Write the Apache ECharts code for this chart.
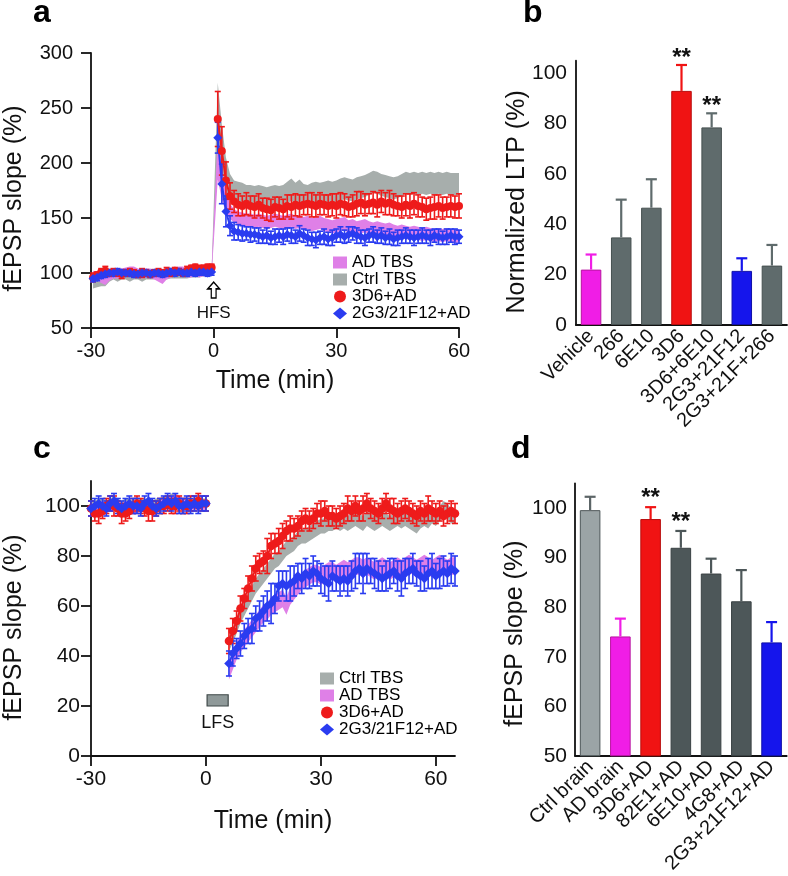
<!DOCTYPE html>
<html>
<head>
<meta charset="utf-8">
<script src="https://cdn.jsdelivr.net/npm/echarts/dist/echarts.min.js"></script>
<style>
html,body{margin:0;padding:0;background:#fff;}
#chart{width:788px;height:876px;}
</style>
</head>
<body>
<div id="chart"></div>
<script>
// ---------------- Panel a data ----------------
const aTimeBase = [-29.5,-28.5,-27.5,-26.5,-25.5,-24.5,-23.5,-22.5,-21.5,-20.5,-19.5,-18.5,-17.5,-16.5,-15.5,-14.5,-13.5,-12.5,-11.5,-10.5,-9.5,-8.5,-7.5,-6.5,-5.5,-4.5,-3.5,-2.5,-1.5,-0.5];
const aTimePost = [1,2,3,4,5,6,7,8,9,10,11,12,13,14,15,16,17,18,19,20,21,22,23,24,25,26,27,28,29,30,31,32,33,34,35,36,37,38,39,40,41,42,43,44,45,46,47,48,49,50,51,52,53,54,55,56,57,58,59,60];

const aRedBase = [96,98,101,102,100,101,100,99,100,101, 100,99,100,100,99,100,101,100,101,100, 102,101,100,102,104,105,103,104,105,105];
const aRedBaseErr = [4,3,3,4,3,3,3,4,3,3, 3,3,4,3,3,3,3,3,4,3, 3,3,3,4,3,3,4,3,3,3];
const aRedPost = [240,211,184,170,165,162,161,163,161,160, 162,159,158,157,160,159,158,161,160,162, 161,162,163,162,161,163,162,161,162,161, 163,162,160,161,163,164,162,163,164,162, 165,163,164,162,161,160,162,161,163,161, 160,158,159,160,161,159,160,161,160,161];
const aRedPostErr = [25,22,17,12,10,10,9,10,9,10, 10,9,10,10,9,10,9,10,11,10, 10,9,10,11,10,10,9,10,10,11, 10,10,9,10,11,10,10,9,10,11, 10,10,11,10,9,10,10,11,10,10, 9,10,10,11,10,10,9,10,10,11];

const aBlueBase = [95,96,98,99,100,100,101,100,100,100, 99,99,100,100,99,100,100,99,100,101, 100,101,100,100,101,100,101,101,100,101];
const aBlueBaseErr = [3,3,3,3,3,3,3,3,3,3, 3,3,3,3,3,3,3,3,3,3, 3,3,3,3,3,3,3,3,3,3];
const aBluePost = [223,181,156,143,138,137,136,136,135,135, 134,133,134,132,133,134,133,135,134,133, 136,134,132,131,130,132,133,131,132,134, 135,133,135,136,134,133,132,134,135,133, 134,132,133,131,132,133,134,133,132,133, 134,133,132,134,133,132,133,134,133,133];
const aBluePostErr = [14,18,14,9,8,7,7,6,7,6, 7,6,7,6,7,6,7,6,7,6, 7,6,7,6,7,6,7,6,7,6, 7,6,7,6,7,6,7,6,7,6, 7,6,7,6,7,6,7,6,7,6, 7,6,7,6,7,6,7,6,7,6];

const aCtrlBase = [92,93,94,94,96,97,96,97,97,96, 97,97,96,97,97,97,98,97,97,98, 98,98,98,98,99,99,99,100,100,100];
const aCtrlBaseSem = [6,6,6,6,4,3,4,3,3,4, 3,3,4,3,3,3,3,3,3,3, 3,3,3,3,3,3,3,3,3,3];
const aCtrlPost = [242,212,189,178,173,172,171,170,170,169, 170,169,168,169,170,169,170,173,176,172, 175,171,170,172,173,172,173,174,173,174, 176,177,176,175,177,178,179,181,183,182, 180,179,178,177,178,180,182,181,182,181, 182,181,182,181,182,181,182,181,181,181];
const aCtrlPostSem = [31,23,16,12,11,11,11,10,10,10, 10,10,10,10,10,10,10,10,10,10, 10,10,10,10,10,10,10,10,10,10, 10,10,10,10,10,10,10,10,10,10, 10,10,10,10,10,10,10,10,10,10, 10,10,10,10,10,10,10,10,10,10];

const aADBase = [98,97,95,93,97,99,99,100,101,102, 102,100,99,100,100,98,96,94,98,100, 101,102,102,100,100,101,100,101,101,102];
const aADBaseSem = [4,4,4,4,4,4,4,4,4,4, 4,4,4,4,4,4,4,4,4,4, 4,4,4,4,4,4,4,4,4,4];
const aADPost = [205,182,165,156,152,150,149,148,148,147, 148,147,146,147,148,147,146,147,148,146, 147,145,146,144,145,146,144,143,142,143, 144,145,142,143,141,142,143,141,140,141, 140,139,140,138,137,138,137,136,137,136, 135,136,135,134,135,134,135,134,133,134];
const aADPostSem = [20,15,10,7,6,6,6,6,6,6, 6,6,6,6,6,6,6,6,6,6, 6,6,6,6,6,6,6,6,6,6, 6,6,6,6,6,6,6,6,6,6, 6,6,6,6,6,6,6,6,6,6, 6,6,6,6,6,6,6,6,6,6];

// ---------------- Panel b data ----------------
const bCategories = ['Vehicle','266','6E10','3D6','3D6+6E10','2G3+21F12','2G3+21F+266'];
const bValues = [22, 34.8, 46.6, 93, 78.5, 21.5, 23.6];
const bErrors = [6, 15, 11.3, 10.3, 5.6, 5, 8.2];
const bSignif = ['', '', '', '**', '**', '', ''];

// ---------------- Panel c data ----------------
const cTimeBase = [-30,-29,-28,-27,-26,-25,-24,-23,-22,-21,-20,-19,-18,-17,-16,-15,-14,-13,-12,-11,-10,-9,-8,-7,-6,-5,-4,-3,-2,-1,0];
const cTimePost = [6,7,8,9,10,11,12,13,14,15,16,17,18,19,20,21,22,23,24,25,26,27,28,29,30,31,32,33,34,35,36,37,38,39,40,41,42,43,44,45,46,47,48,49,50,51,52,53,54,55,56,57,58,59,60,61,62,63,64,65];

const cRedBase = [99,97,97,98,100,101,100,99,97,97, 98,100,101,100,99,98,98,99,100,100, 101,100,100,101,100,100,101,101,102,101, 101];
const cRedBaseErr = [3,3,4,3,3,3,4,3,4,3, 3,3,3,3,3,4,4,3,3,3, 3,3,3,3,3,3,3,3,3,3, 3];
const cRedPost = [46,50,54,59,63,67,71,75,77,78, 80,84,85,86,88,90,91,91,92,94, 95,94,95,97,97,98,96,96,95,96, 97,99,98,100,98,99,101,99,98,97, 99,101,99,98,97,98,99,98,97,96, 98,97,99,98,97,98,96,97,98,97];
const cRedPostErr = [5,5,4,5,4,5,5,5,4,4, 7,5,4,5,5,4,5,4,4,4, 4,4,4,4,5,4,4,4,4,4, 4,5,4,4,4,5,4,4,4,4, 4,4,4,5,4,4,4,4,4,4, 4,4,5,4,4,4,4,4,4,4];

const cBlueBase = [99,100,101,100,99,101,102,100,99,100, 101,100,100,99,101,102,100,99,100,101, 102,101,102,100,100,101,100,101,100,101, 101];
const cBlueBaseErr = [3,3,3,3,3,3,3,3,3,3, 3,3,3,3,3,3,3,3,3,3, 3,3,3,3,3,3,3,3,3,3, 3];
const cBluePost = [37,41,43,45,48,50,51,55,56,58, 60,61,63,68,69,68,69,70,72,71, 73,72,74,73,71,70,69,72,71,70, 71,70,72,74,75,73,75,74,73,72, 71,72,73,74,72,71,73,74,75,73, 72,71,73,74,72,73,74,73,75,74];
const cBluePostErr = [5,5,4,5,5,5,6,5,6,6, 6,8,6,6,5,6,7,6,5,6, 6,5,6,5,6,6,7,6,5,6, 5,6,6,7,6,8,6,5,6,6, 5,6,6,5,6,7,6,5,6,5, 6,5,6,7,5,6,6,5,6,6];

const cCtrlBase = [100,100,101,101,100,101,102,101,100,101, 101,100,100,101,101,100,100,101,101,102, 102,103,103,102,101,101,101,101,101,101, 101];
const cCtrlBaseSem = [2,2,2,2,2,2,2,2,2,2, 2,2,2,2,2,2,2,2,2,2, 2,2,2,2,2,2,2,2,2,2, 2];
const cCtrlPost = [45,48,52,56,59,62,65,68,70,72, 74,76,78,79,81,83,84,85,87,88, 88,89,90,91,92,92,93,93,94,93, 94,93,94,95,94,93,95,94,93,94, 95,94,93,94,95,94,95,94,93,92, 94,95,94,96,95,97,99,98,96,96];
const cCtrlPostSem = [3,3,3,3,3,3,3,3,3,3, 3,3,3,3,3,3,3,3,3,3, 3,3,3,3,3,3,3,3,3,3, 3,3,3,3,3,3,3,3,3,3, 3,3,3,3,3,3,3,3,3,3, 3,3,3,3,3,3,3,3,3,3];

const cADBase = [99,99,100,100,99,100,101,100,99,100, 100,99,99,100,100,99,98,99,100,101, 101,102,103,102,101,100,100,101,100,100, 100];
const cADBaseSem = [2,2,2,2,2,2,2,2,2,2, 2,2,2,2,2,2,2,2,2,2, 2,2,2,2,2,2,2,2,2,2, 2];
const cADPost = [34,38,42,45,47,49,51,53,55,57, 58,60,61,62,63,60,64,66,68,70, 71,72,73,73,72,73,74,74,73,74, 75,74,75,76,76,75,76,75,74,75, 76,75,74,75,76,75,76,77,76,75, 76,77,76,75,76,77,76,75,76,76];
const cADPostSem = [3.5,3.5,3.5,3.5,3.5,3.5,3.5,3.5,3.5,3.5, 3.5,3.5,3.5,3.5,3.5,3.5,3.5,3.5,3.5,3.5, 3.5,3.5,3.5,3.5,3.5,3.5,3.5,3.5,3.5,3.5, 3.5,3.5,3.5,3.5,3.5,3.5,3.5,3.5,3.5,3.5, 3.5,3.5,3.5,3.5,3.5,3.5,3.5,3.5,3.5,3.5, 3.5,3.5,3.5,3.5,3.5,3.5,3.5,3.5,3.5,3.5];

// ---------------- Panel d data ----------------
const dCategories = ['Ctrl brain','AD brain','3D6+AD','82E1+AD','6E10+AD','4G8+AD','2G3+21F12+AD'];
const dValues = [99.6, 74.1, 97.8, 92, 86.8, 81.2, 72.9];
const dErrors = [2.7, 3.6, 2.4, 3.4, 3.0, 6.3, 4.1];
const dSignif = ['', '', '**', '**', '', '', ''];

// ---------------- Tick labels ----------------
const timeTicksA = [-30, 0, 30, 60];
const timeTicksC = [-30, 0, 30, 60];
const bYTicks = [0, 20, 40, 60, 80, 100];
const cYTicks = [0, 20, 40, 60, 80, 100];
const dYTicks = [50, 60, 70, 80, 90, 100];

// ---------------- Styles ----------------
const FONT = "'Liberation Sans', Arial, Helvetica, sans-serif";
const RED = '#ee1b1b', BLUE = '#2a3cf0', GRAYBAND = '#a7aeac', PINKBAND = '#df80e7';
const AX = '#111';
const bColors = ['#f01de6','#5f6b6c','#5f6b6c','#f01313','#5f6b6c','#1515ec','#5f6b6c'];
const bBorders = ['#b8149f','#465050','#465050','#b80c0c','#465050','#0f0fa8','#465050'];
const dColors = ['#9ba4a6','#f01de6','#f01313','#4d5759','#4d5759','#4d5759','#1515ec'];
const dBorders = ['#4e5759','#b8149f','#b80c0c','#3a4244','#3a4244','#3a4244','#0f0fa8'];
const dErrColors = ['#5c6567','#f01de6','#f01313','#4d5759','#4d5759','#4d5759','#1515ec'];

function zip3(t, m, e) { return t.map((x, i) => [x, m[i] - e[i], m[i] + e[i]]); }
function zip2(t, m) { return t.map((x, i) => [x, m[i]]); }

function bandSeries(name, t, m, s, color, gi) {
  const data = zip3(t, m, s);
  return {
    type: 'custom', name, xAxisIndex: gi, yAxisIndex: gi, data, silent: true,
    encode: { x: 0, y: [1, 2] }, itemStyle: { color },
    renderItem: function (params, api) {
      if (params.dataIndex !== 0) return;
      const up = data.map(d => api.coord([d[0], d[2]]));
      const dn = data.map(d => api.coord([d[0], d[1]])).reverse();
      return { type: 'polygon', shape: { points: up.concat(dn) }, style: { fill: color } };
    }
  };
}

function errSeries(t, m, e, color, gi, cap, lw) {
  return {
    type: 'custom', name: 'err', xAxisIndex: gi, yAxisIndex: gi, data: zip3(t, m, e), silent: true,
    encode: { x: 0, y: [1, 2] }, itemStyle: { color },
    renderItem: function (params, api) {
      const x = api.value(0);
      const pl = api.coord([x, api.value(1)]), ph = api.coord([x, api.value(2)]);
      const st = { stroke: color, lineWidth: lw };
      return { type: 'group', children: [
        { type: 'line', shape: { x1: pl[0], y1: pl[1], x2: ph[0], y2: ph[1] }, style: st },
        { type: 'line', shape: { x1: pl[0] - cap, y1: pl[1], x2: pl[0] + cap, y2: pl[1] }, style: st },
        { type: 'line', shape: { x1: ph[0] - cap, y1: ph[1], x2: ph[0] + cap, y2: ph[1] }, style: st }
      ] };
    }
  };
}

function lineSeries(name, t, m, color, symbol, size, gi, extra) {
  return Object.assign({
    type: 'line', name, xAxisIndex: gi, yAxisIndex: gi, data: zip2(t, m),
    symbol, symbolSize: size, showAllSymbol: true, silent: true,
    lineStyle: { color, width: 2 }, itemStyle: { color }
  }, extra || {});
}

function barSeries(values, colors, borders, gi) {
  return {
    type: 'bar', xAxisIndex: gi, yAxisIndex: gi, barWidth: '68%', silent: true,
    data: values.map((v, i) => ({ value: v, itemStyle: { color: colors[i], borderColor: borders[i], borderWidth: 1 } }))
  };
}

function barErrSeries(values, errors, signif, colors, gi, gap) {
  return {
    type: 'custom', xAxisIndex: gi, yAxisIndex: gi, silent: true, z: 3,
    data: values.map((v, i) => [i, v, v + errors[i]]),
    encode: { x: 0, y: [1, 2] },
    renderItem: function (params, api) {
      const i = params.dataIndex;
      const pb = api.coord([api.value(0), api.value(1)]);
      const pt = api.coord([api.value(0), api.value(2)]);
      const st = { stroke: colors[i], lineWidth: 2.2 };
      const ch = [
        { type: 'line', shape: { x1: pb[0], y1: pb[1], x2: pt[0], y2: pt[1] }, style: st },
        { type: 'line', shape: { x1: pt[0] - 5.5, y1: pt[1], x2: pt[0] + 5.5, y2: pt[1] }, style: st }
      ];
      if (signif[i]) {
        ch.push({ type: 'text', style: { text: signif[i], x: pt[0], y: pt[1] - gap, align: 'center', verticalAlign: 'middle',
          fontSize: 24, fontWeight: 'bold', fontFamily: FONT, fill: '#111' } });
      }
      return { type: 'group', children: ch };
    }
  };
}

const axLine = { show: true, onZero: false, lineStyle: { color: AX, width: 1.8 } };
const tickStyle = { color: AX, width: 1.8 };

const arrowPath = 'path://M5,0 L10,6 L7,6 L7,14 L3,14 L3,6 L0,6 Z';

const option = {
  backgroundColor: '#fff',
  animation: false,
  textStyle: { fontFamily: FONT },
  title: [
    { text: 'a', left: 33, top: -3, padding: 0, textStyle: { fontSize: 32, fontWeight: 'bold', fontFamily: FONT, color: '#000' } },
    { text: 'b', left: 523, top: -3, padding: 0, textStyle: { fontSize: 32, fontWeight: 'bold', fontFamily: FONT, color: '#000' } },
    { text: 'c', left: 33, top: 433, padding: 0, textStyle: { fontSize: 32, fontWeight: 'bold', fontFamily: FONT, color: '#000' } },
    { text: 'd', left: 511, top: 433, padding: 0, textStyle: { fontSize: 32, fontWeight: 'bold', fontFamily: FONT, color: '#000' } }
  ],
  legend: [
    { orient: 'vertical', left: 333, top: 254, padding: 0, itemGap: 0, itemWidth: 14, itemHeight: 12, selectedMode: false,
      textStyle: { fontSize: 17, lineHeight: 17, color: '#000', fontFamily: FONT },
      data: [
        { name: 'AD TBS', icon: 'rect', itemStyle: { color: PINKBAND } },
        { name: 'Ctrl TBS', icon: 'rect', itemStyle: { color: GRAYBAND } },
        { name: '3D6+AD', icon: 'circle', itemStyle: { color: RED } },
        { name: '2G3/21F12+AD', icon: 'diamond', itemStyle: { color: BLUE } }
      ] },
    { orient: 'vertical', left: 320, top: 670, padding: 0, itemGap: 0, itemWidth: 14, itemHeight: 12, selectedMode: false,
      textStyle: { fontSize: 17, lineHeight: 17, color: '#000', fontFamily: FONT },
      data: [
        { name: 'Ctrl TBS', icon: 'rect', itemStyle: { color: GRAYBAND } },
        { name: 'AD TBS', icon: 'rect', itemStyle: { color: PINKBAND } },
        { name: '3D6+AD', icon: 'circle', itemStyle: { color: RED } },
        { name: '2G3/21F12+AD', icon: 'diamond', itemStyle: { color: BLUE } }
      ] }
  ],
  grid: [
    { left: 91, top: 53, width: 368, height: 275 },
    { left: 576, top: 60.7, width: 211, height: 264.3 },
    { left: 91, top: 481, width: 364, height: 275 },
    { left: 575, top: 483.4, width: 211.7, height: 274 }
  ],
  xAxis: [
    { gridIndex: 0, type: 'value', min: -30, max: 60, interval: 30, splitLine: { show: false },
      axisLine: axLine, axisTick: { length: 10, lineStyle: tickStyle, customValues: timeTicksA },
      axisLabel: { fontSize: 20, color: '#111', margin: 13, customValues: timeTicksA },
      name: 'Time (min)', nameLocation: 'middle', nameGap: 41, nameMoveOverlap: false, nameTextStyle: { fontSize: 25, color: '#111' } },
    { gridIndex: 1, type: 'category', data: bCategories, axisLine: axLine,
      axisTick: { length: 9, lineStyle: tickStyle, alignWithLabel: false },
      axisLabel: { fontSize: 20, color: '#111', rotate: 45, margin: 8, interval: 0 } },
    { gridIndex: 2, type: 'value', min: -30, max: 65, interval: 30, splitLine: { show: false },
      axisLine: axLine, axisTick: { length: 10, lineStyle: tickStyle, customValues: timeTicksC },
      axisLabel: { fontSize: 21, color: '#111', margin: 13, customValues: timeTicksC },
      name: 'Time (min)', nameLocation: 'middle', nameGap: 53, nameMoveOverlap: false, nameTextStyle: { fontSize: 25, color: '#111' } },
    { gridIndex: 3, type: 'category', data: dCategories, axisLine: axLine,
      axisTick: { length: 9, lineStyle: tickStyle, alignWithLabel: false },
      axisLabel: { fontSize: 20, color: '#111', rotate: 45, margin: 8, interval: 0 } }
  ],
  yAxis: [
    { gridIndex: 0, type: 'value', min: 50, max: 300, interval: 50, splitLine: { show: false },
      axisLine: axLine, axisTick: { length: 10, lineStyle: tickStyle },
      axisLabel: { fontSize: 20, color: '#111', margin: 18 },
      name: 'fEPSP slope (%)', nameLocation: 'middle', nameGap: 64, nameMoveOverlap: false,
      nameTextStyle: { fontSize: 25, color: '#111', padding: [0, 16, 0, 0] } },
    { gridIndex: 1, type: 'value', min: 0, max: 105, interval: 20, splitLine: { show: false },
      axisLine: axLine, axisTick: { length: 8, lineStyle: tickStyle, customValues: bYTicks },
      axisLabel: { fontSize: 21, color: '#111', margin: 9, customValues: bYTicks },
      name: 'Normalized LTP (%)', nameLocation: 'middle', nameGap: 46, nameMoveOverlap: false,
      nameTextStyle: { fontSize: 25, color: '#111', padding: [0, 18, 0, 0] } },
    { gridIndex: 2, type: 'value', min: 0, max: 110, interval: 20, splitLine: { show: false },
      axisLine: axLine, axisTick: { length: 10, lineStyle: tickStyle, customValues: cYTicks },
      axisLabel: { fontSize: 21, color: '#111', margin: 11, customValues: cYTicks },
      name: 'fEPSP slope (%)', nameLocation: 'middle', nameGap: 64, nameMoveOverlap: false,
      nameTextStyle: { fontSize: 25, color: '#111', padding: [0, 18, 0, 0] } },
    { gridIndex: 3, type: 'value', min: 50, max: 105, interval: 10, splitLine: { show: false },
      axisLine: axLine, axisTick: { length: 9, lineStyle: tickStyle, customValues: dYTicks },
      axisLabel: { fontSize: 21, color: '#111', margin: 8, customValues: dYTicks },
      name: 'fEPSP slope (%)', nameLocation: 'middle', nameGap: 47, nameMoveOverlap: false,
      nameTextStyle: { fontSize: 25, color: '#111', padding: [0, 28, 0, 0] } }
  ],
  series: [
    // Panel a
    bandSeries('Ctrl TBS', aTimeBase.concat(aTimePost), aCtrlBase.concat(aCtrlPost), aCtrlBaseSem.concat(aCtrlPostSem), GRAYBAND, 0),
    bandSeries('AD TBS', aTimeBase.concat(aTimePost), aADBase.concat(aADPost), aADBaseSem.concat(aADPostSem), PINKBAND, 0),
    errSeries(aTimeBase, aRedBase, aRedBaseErr, RED, 0, 3, 1.6),
    errSeries(aTimePost, aRedPost, aRedPostErr, RED, 0, 3, 1.6),
    lineSeries('3D6+AD', aTimeBase, aRedBase, RED, 'circle', 8, 0, {
      markPoint: {
        silent: true, symbol: arrowPath, symbolSize: [12, 16],
        itemStyle: { color: '#fff', borderColor: '#000', borderWidth: 1.4 },
        label: { show: true, position: 'bottom', distance: 6, formatter: 'HFS', color: '#111', fontSize: 17, fontFamily: FONT },
        data: [{ coord: [0, 84.5] }]
      }
    }),
    lineSeries('3D6+AD', aTimePost, aRedPost, RED, 'circle', 8, 0),
    errSeries(aTimeBase, aBlueBase, aBlueBaseErr, BLUE, 0, 3, 1.6),
    errSeries(aTimePost, aBluePost, aBluePostErr, BLUE, 0, 3, 1.6),
    lineSeries('2G3/21F12+AD', aTimeBase, aBlueBase, BLUE, 'diamond', 9, 0),
    lineSeries('2G3/21F12+AD', aTimePost, aBluePost, BLUE, 'diamond', 9, 0),

    // Panel b
    barSeries(bValues, bColors, bBorders, 1),
    barErrSeries(bValues, bErrors, bSignif, bColors, 1, 7),

    // Panel c
    bandSeries('Ctrl TBS', cTimeBase, cCtrlBase, cCtrlBaseSem, GRAYBAND, 2),
    bandSeries('Ctrl TBS', cTimePost, cCtrlPost, cCtrlPostSem, GRAYBAND, 2),
    bandSeries('AD TBS', cTimeBase, cADBase, cADBaseSem, PINKBAND, 2),
    bandSeries('AD TBS', cTimePost, cADPost, cADPostSem, PINKBAND, 2),
    errSeries(cTimeBase, cRedBase, cRedBaseErr, RED, 2, 3, 1.6),
    errSeries(cTimePost, cRedPost, cRedPostErr, RED, 2, 3, 1.6),
    lineSeries('3D6+AD', cTimeBase, cRedBase, RED, 'circle', 8.5, 2),
    lineSeries('3D6+AD', cTimePost, cRedPost, RED, 'circle', 8.5, 2, {
      markArea: {
        silent: true,
        itemStyle: { color: '#8f9999', borderColor: '#3f4848', borderWidth: 1.2 },
        label: { show: true, position: 'bottom', distance: 7, color: '#111', fontSize: 18, fontFamily: FONT },
        data: [[{ name: 'LFS', coord: [0.3, 20] }, { coord: [5.8, 24.5] }]]
      }
    }),
    errSeries(cTimeBase, cBlueBase, cBlueBaseErr, BLUE, 2, 3, 1.6),
    errSeries(cTimePost, cBluePost, cBluePostErr, BLUE, 2, 3, 1.6),
    lineSeries('2G3/21F12+AD', cTimeBase, cBlueBase, BLUE, 'diamond', 9.5, 2),
    lineSeries('2G3/21F12+AD', cTimePost, cBluePost, BLUE, 'diamond', 9.5, 2),

    // Panel d
    barSeries(dValues, dColors, dBorders, 3),
    barErrSeries(dValues, dErrors, dSignif, dErrColors, 3, 9)
  ]
};

const chart = echarts.init(document.getElementById('chart'), null, { renderer: 'canvas' });
chart.setOption(option);
</script>
</body>
</html>
